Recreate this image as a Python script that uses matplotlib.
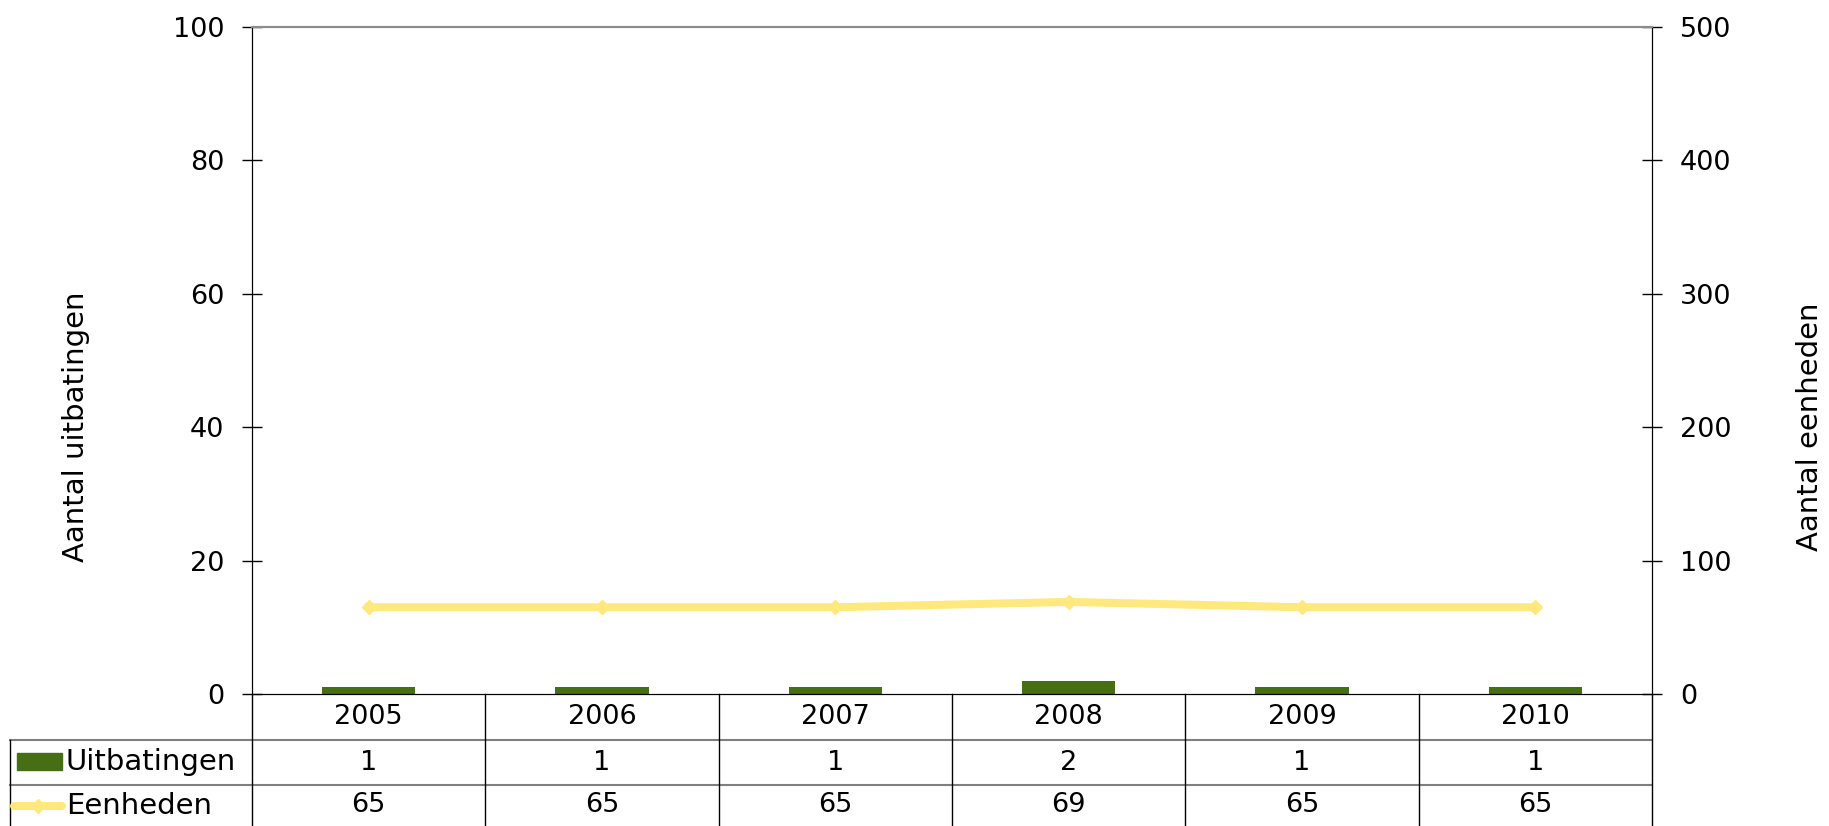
import numpy as np
import matplotlib
matplotlib.use("Agg")
import matplotlib.pyplot as plt
from matplotlib.transforms import blended_transform_factory
from matplotlib.lines import Line2D
from matplotlib.patches import Rectangle

years = ['2005', '2006', '2007', '2008', '2009', '2010']
uitbatingen = [1, 1, 1, 2, 1, 1]
eenheden = [65, 65, 65, 69, 65, 65]

green = '#466e15'
yellow = '#ffe97f'
fs = 19.5
fs_words = 21

plt.rcParams['font.family'] = ['DejaVu Sans']

fig = plt.figure(figsize=(18.29, 8.26), dpi=100)
ax = fig.add_axes([252 / 1829, 1 - 694 / 826, 1400 / 1829, 667.3 / 826])
ax2 = ax.twinx()

x = np.arange(len(years))
ax.bar(x, uitbatingen, width=0.4, color=green, zorder=2)
ax2.plot(x, eenheden, color=yellow, lw=5.8, marker='D', ms=7, mfc=yellow, mec=yellow, zorder=3)

ax.set_xlim(-0.5, len(years) - 0.5)
ax.set_ylim(0, 100)
ax2.set_ylim(0, 500)
ax.set_yticks(range(0, 101, 20))
ax2.set_yticks(range(0, 501, 100))
ax.set_xticks([])
ax.tick_params(axis='y', direction='inout', length=14, width=1, labelsize=fs, pad=13)
ax2.tick_params(axis='y', direction='inout', length=14, width=1, labelsize=fs, pad=13)

for a in (ax, ax2):
    a.spines['top'].set_color('#8c8c8c')
    a.spines['top'].set_linewidth(1.5)
    a.spines['left'].set_color('black')
    a.spines['right'].set_color('black')
    a.spines['bottom'].set_color('black')

ax.set_ylabel('Aantal uitbatingen', fontsize=fs_words)
ax2.set_ylabel('Aantal eenheden', fontsize=fs_words)
ax.yaxis.set_label_coords(-0.1157, 0.40)
ax2.yaxis.set_label_coords(1.103, 0.40)

# data table below the axes
h = 667.3
y_row1 = (694 - 740) / h
y_row2 = (694 - 785) / h
y_bot = (694 - 826) / h
x_left = (10 - 252) / 1400

ta = ax.transAxes
for yy in (y_row1, y_row2):
    ax.add_line(Line2D([x_left, 1], [yy, yy], transform=ta, color='#7f7f7f', lw=1.5, clip_on=False))
ax.add_line(Line2D([x_left, x_left], [y_row1, y_bot], transform=ta, color='black', lw=1, clip_on=False))
for i in range(len(years) + 1):
    xx = i / len(years)
    ax.add_line(Line2D([xx, xx], [0, y_bot], transform=ta, color='black', lw=1, clip_on=False))

bt = blended_transform_factory(ax.transData, ax.transAxes)
c0 = y_row1 / 2
c1 = (y_row1 + y_row2) / 2
c2 = (y_row2 + y_bot) / 2
for i in range(len(years)):
    ax.text(x[i], c0, years[i], transform=bt, ha='center', va='center', fontsize=fs)
    ax.text(x[i], c1, str(uitbatingen[i]), transform=bt, ha='center', va='center', fontsize=fs)
    ax.text(x[i], c2, str(eenheden[i]), transform=bt, ha='center', va='center', fontsize=fs)

# legend keys inside table
ax.add_patch(Rectangle(((17 - 252) / 1400, (694 - 770) / h), 45 / 1400, 17 / h,
                       transform=ta, color=green, clip_on=False))
ax.text((66 - 252) / 1400, c1, 'Uitbatingen', transform=ta, ha='left', va='center', fontsize=fs_words)
ax.add_line(Line2D([(14 - 252) / 1400, (62 - 252) / 1400], [c2, c2], transform=ta, color=yellow,
                   lw=5.8, clip_on=False, solid_capstyle='round'))
ax.add_line(Line2D([(38 - 252) / 1400], [c2], transform=ta, color=yellow, marker='D', ms=7,
                   clip_on=False))
ax.text((66 - 252) / 1400, c2, 'Eenheden', transform=ta, ha='left', va='center', fontsize=fs_words)

fig.savefig('out.png', dpi=100)
